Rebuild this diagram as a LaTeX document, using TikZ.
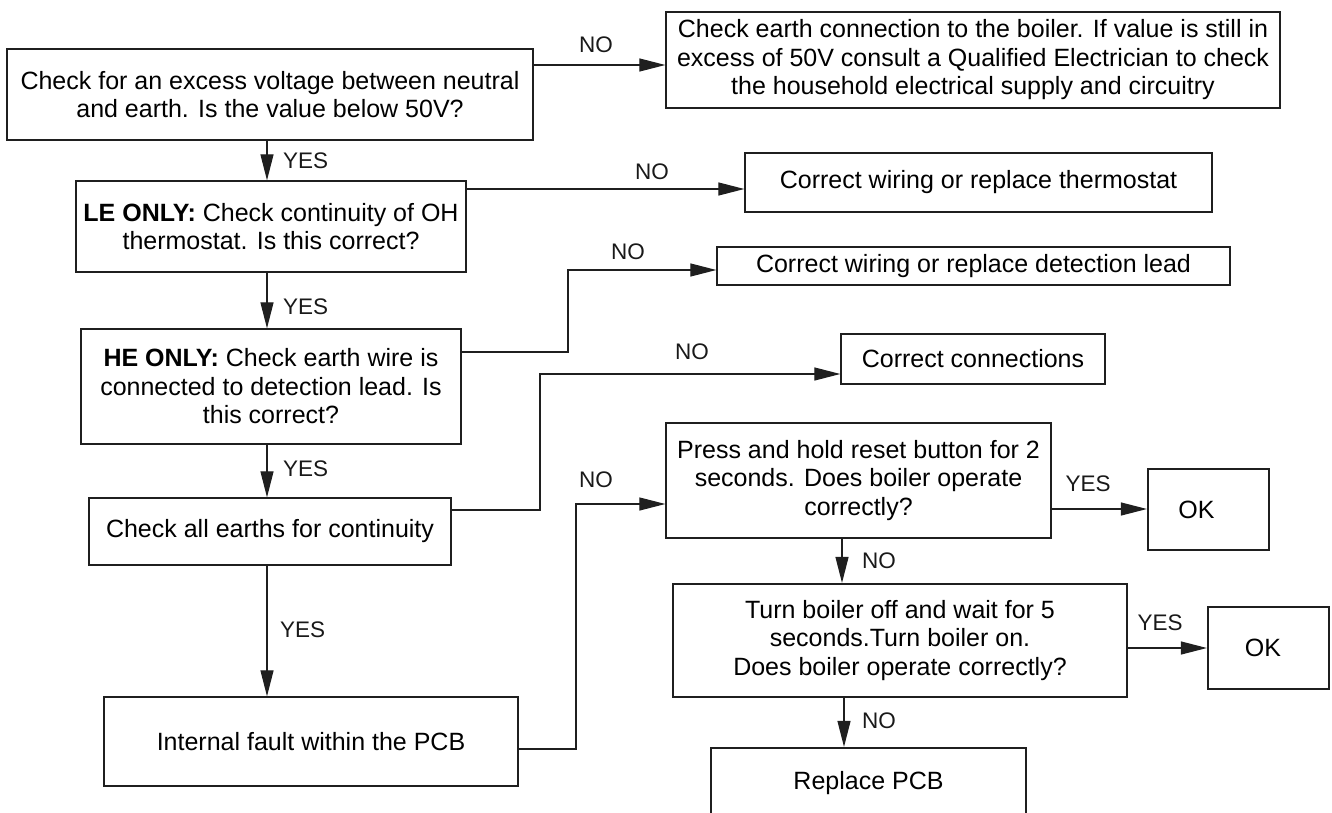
\documentclass[tikz,border=0pt]{standalone}
\usepackage{fontspec}
\setmainfont{Liberation Sans}
\usetikzlibrary{arrows.meta}
\begin{document}
\begin{tikzpicture}[x=1pt,y=-1pt,
  box/.style={draw=black!88, line width=1.3pt, inner sep=2pt, align=center, font=\fontsize{25}{28.5}\selectfont},
  thickbox/.style={box, line width=2.2pt},
  lbl/.style={font=\fontsize{22.5}{26}\selectfont, inner sep=0pt, text=black!90},
  arr/.style={draw=black!88, line width=1.2pt, -{Triangle[length=26pt,width=13pt]}}]
\useasboundingbox (0,0) rectangle (1332,813);

% boxes
\node[box, minimum width=526pt, minimum height=91pt] (b1) at (270,94.5)
  {Check for an excess voltage between neutral\\and earth. Is the value below 50V?};
\node[box, minimum width=614pt, minimum height=96pt] (b2) at (973,60)
  {Check earth connection to the boiler. If value is still in\\excess of 50V consult a Qualified Electrician to check\\the household electrical supply and circuitry};
\node[box, minimum width=390pt, minimum height=91pt] (le) at (271,226.5)
  {\textbf{LE ONLY:} Check continuity of OH\\thermostat. Is this correct?};
\node[box, minimum width=467pt, minimum height=59pt] (th) at (978.5,182.5)
  {Correct wiring or replace thermostat};
\node[box, minimum width=380pt, minimum height=115pt] (he) at (271,386.5)
  {\textbf{HE ONLY:} Check earth wire is\\connected to detection lead. Is\\this correct?};
\node[box, minimum width=513pt, minimum height=38pt] (det) at (973.5,266)
  {Correct wiring or replace detection lead};
\node[box, minimum width=264pt, minimum height=50pt] (cc) at (973,359)
  {Correct connections};
\node[box, minimum width=362pt, minimum height=67pt] (ea) at (270,531.5)
  {Check all earths for continuity};
\node[box, minimum width=414pt, minimum height=89pt] (in) at (311,741.5)
  {Internal fault within the PCB};
\node[box, minimum width=385pt, minimum height=115pt] (pr) at (858.5,480.5)
  {Press and hold reset button for 2\\seconds. Does boiler operate\\correctly?};
\node[thickbox, minimum width=121pt, minimum height=81pt] (ok1) at (1208.5,509.5)
  {OK\hspace*{24pt}};
\node[thickbox, minimum width=454pt, minimum height=113pt] (tu) at (900,640.5)
  {Turn boiler off and wait for 5\\seconds.Turn boiler on.\\Does boiler operate correctly?};
\node[thickbox, minimum width=121pt, minimum height=82pt] (ok2) at (1268.5,648)
  {OK\hspace*{11pt}};
\node[thickbox, minimum width=315pt, minimum height=70pt] (rp) at (868.5,783)
  {Replace PCB};

% helper coordinates
\coordinate (c1) at (0,65);
\coordinate (xc) at (267,0);
\coordinate (c2) at (0,189);
\coordinate (c3) at (0,352);
\coordinate (k3) at (568,270);
\coordinate (c4) at (0,510);
\coordinate (k4) at (540,374);
\coordinate (c5) at (0,749);
\coordinate (k5) at (576,504);
\coordinate (c6) at (0,509);
\coordinate (x7) at (842,0);
\coordinate (c8) at (0,648);
\coordinate (x9) at (844,0);

% connectors
\draw[arr] (b1.east |- c1) -- (b2.west |- c1);
\node[lbl] (n1) at (596,45) {NO};

\draw[arr] (b1.south -| xc) -- (le.north -| xc);
\node[lbl, anchor=west] (y1) at (283,161) {YES};

\draw[arr] (le.east |- c2) -- (th.west |- c2);
\node[lbl] (n2) at (652,172) {NO};

\draw[arr] (le.south -| xc) -- (he.north -| xc);
\node[lbl, anchor=west] (y2) at (283,307) {YES};

\draw[arr] (he.east |- c3) -| (k3) -- (det.west |- k3);
\node[lbl] (n3) at (628,252) {NO};

\draw[arr] (he.south -| xc) -- (ea.north -| xc);
\node[lbl, anchor=west] (y3) at (283,469) {YES};

\draw[arr] (ea.east |- c4) -| (k4) -- (cc.west |- k4);
\node[lbl] (n4) at (692,352) {NO};

\draw[arr] (ea.south -| xc) -- (in.north -| xc);
\node[lbl, anchor=west] (y4) at (280,630) {YES};

\draw[arr] (in.east |- c5) -| (k5) -- (pr.west |- k5);
\node[lbl] (n5) at (596,480) {NO};

\draw[arr] (pr.east |- c6) -- (ok1.west |- c6);
\node[lbl] (y5) at (1088,484) {YES};

\draw[arr] (pr.south -| x7) -- (tu.north -| x7);
\node[lbl, anchor=west] (n6) at (862,561) {NO};

\draw[arr] (tu.east |- c8) -- (ok2.west |- c8);
\node[lbl] (y6) at (1160,623) {YES};

\draw[arr] (tu.south -| x9) -- (rp.north -| x9);
\node[lbl, anchor=west] (n7) at (862,721) {NO};
\end{tikzpicture}
\end{document}
